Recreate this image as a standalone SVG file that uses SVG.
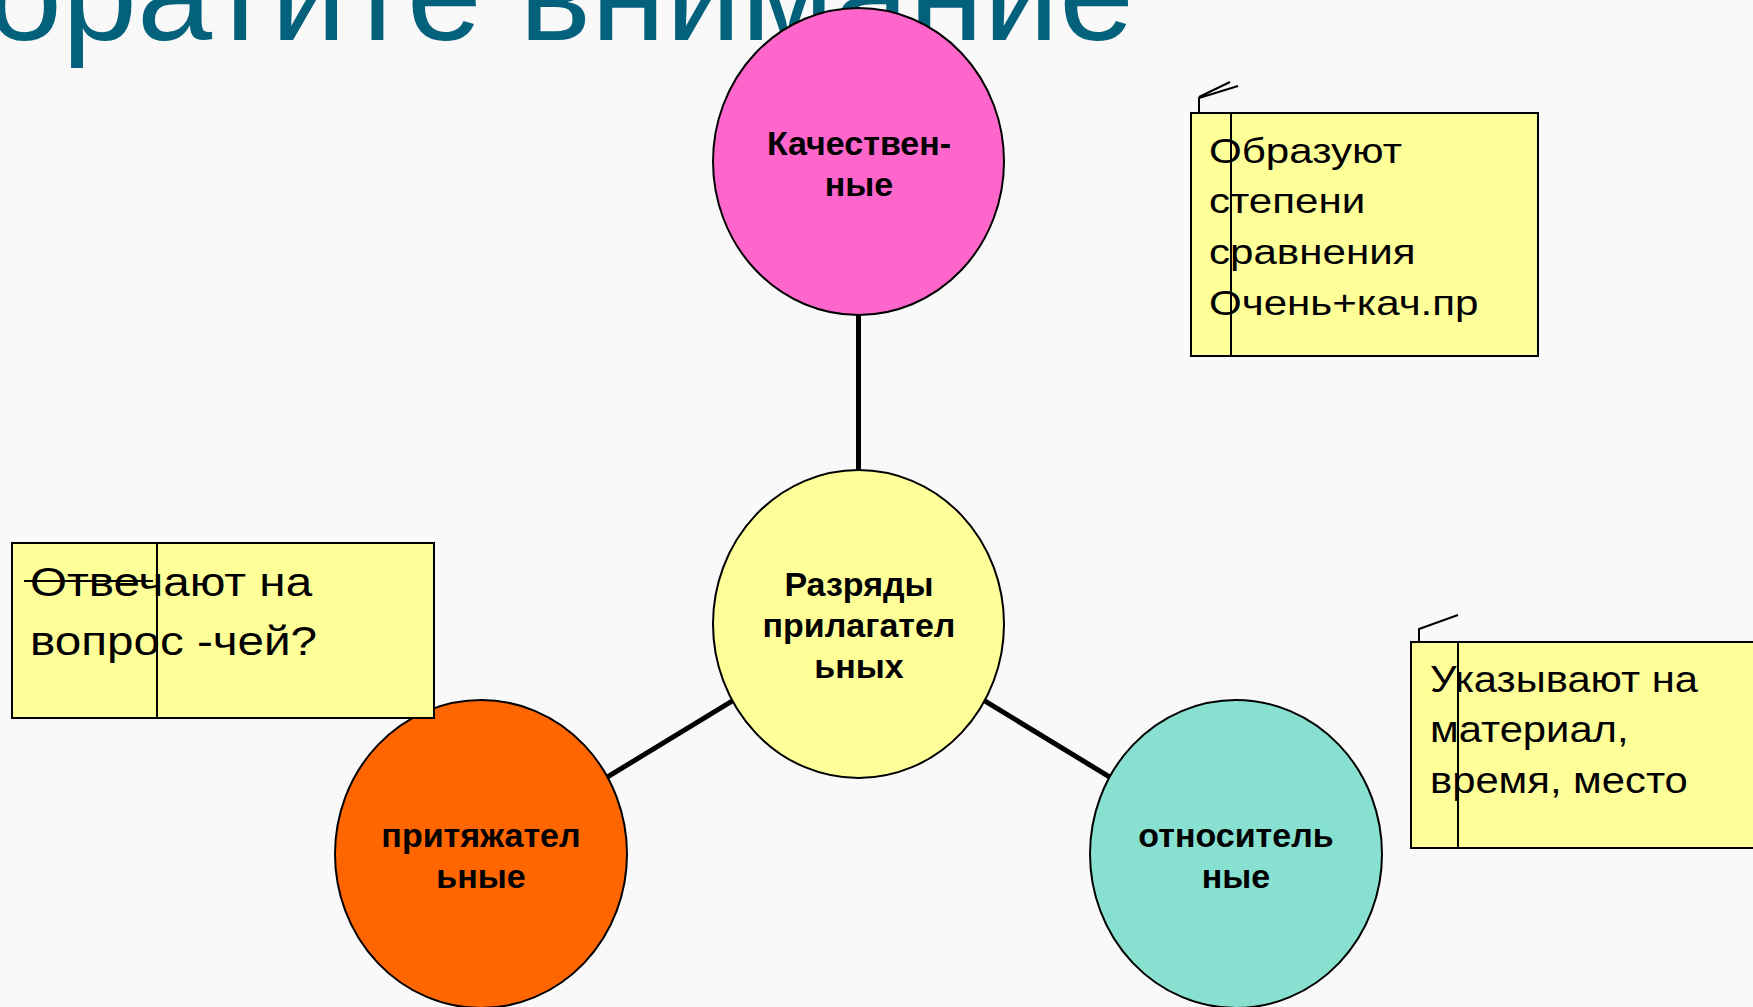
<svg xmlns="http://www.w3.org/2000/svg" width="1753" height="1007" viewBox="0 0 1753 1007">
<style>
.bg{fill:#F9F9F9}
.title{font-family:"Liberation Sans",Arial,sans-serif;font-size:135px;fill:#04617B}
.node{stroke:#000;stroke-width:2}
.lbl{font-family:"Liberation Sans",Arial,sans-serif;font-size:34px;font-weight:bold;fill:#000;text-anchor:middle}
.note{fill:#FFFF99;stroke:#000;stroke-width:2}
.nl{fill:none;stroke:#000;stroke-width:2}
.nt{font-family:"Liberation Sans",Arial,sans-serif;fill:#000}
.conn{stroke:#000;stroke-width:5;fill:none}
</style>
<rect class="bg" x="0" y="0" width="1753" height="1007"/>
<text class="title" x="1134" y="40" text-anchor="end">Обратите  внимание</text>
<g id="connectors">
<line class="conn" x1="858.5" y1="161.5" x2="858.5" y2="624"/>
<line class="conn" x1="858.5" y1="624" x2="481" y2="854"/>
<line class="conn" x1="858.5" y1="624" x2="1236" y2="854"/>
</g>
<g id="node-kach">
<ellipse class="node" cx="858.5" cy="161.5" rx="145.5" ry="153.5" fill="#FF66CC"/>
<text class="lbl" x="859" y="155">Качествен-</text>
<text class="lbl" x="859" y="195.5">ные</text>
</g>
<g id="node-razryady">
<ellipse class="node" cx="858.5" cy="624" rx="145.5" ry="154" fill="#FFFF99"/>
<text class="lbl" x="859" y="596">Разряды</text>
<text class="lbl" x="859" y="637">прилагател</text>
<text class="lbl" x="859" y="678">ьных</text>
</g>
<g id="node-prityazh">
<ellipse class="node" cx="481" cy="854" rx="146" ry="154" fill="#FF6600"/>
<text class="lbl" x="481" y="847">притяжател</text>
<text class="lbl" x="481" y="888">ьные</text>
</g>
<g id="node-otnosit">
<ellipse class="node" cx="1236" cy="854" rx="146" ry="154" fill="#87E0D0"/>
<text class="lbl" x="1236" y="847">относитель</text>
<text class="lbl" x="1236" y="888">ные</text>
</g>
<g id="note-kach">
<path class="nl" d="M1199,112 V98 L1238,86 M1199,97 L1230,82"/>
<rect class="note" x="1191" y="113" width="347" height="243"/>
<line class="nl" x1="1231" y1="113" x2="1231" y2="356"/>
<g class="nt" font-size="36" transform="translate(1209,0) scale(1.17,1)">
<text x="0" y="163">Образуют</text>
<text x="0" y="213.5">степени</text>
<text x="0" y="264.5">сравнения</text>
<text x="0" y="315">Очень+кач.пр</text>
</g>
</g>
<g id="note-prityazh">
<rect class="note" x="12" y="543" width="422" height="175"/>
<line class="nl" x1="157" y1="543" x2="157" y2="718"/>
<line class="nl" x1="24" y1="581" x2="153" y2="581"/>
<g class="nt" font-size="40" transform="translate(30,0) scale(1.19,1)">
<text x="0" y="596">Отвечают на</text>
<text x="0" y="655">вопрос -чей?</text>
</g>
</g>
<g id="note-otnosit">
<path class="nl" d="M1419,642 V629 L1458,615"/>
<rect class="note" x="1411" y="642" width="370" height="206"/>
<line class="nl" x1="1458" y1="642" x2="1458" y2="848"/>
<g class="nt" font-size="36" transform="translate(1430,0) scale(1.16,1)">
<text x="0" y="692">Указывают на</text>
<text x="0" y="742">материал,</text>
<text x="0" y="793">время, место</text>
</g>
</g>
</svg>
